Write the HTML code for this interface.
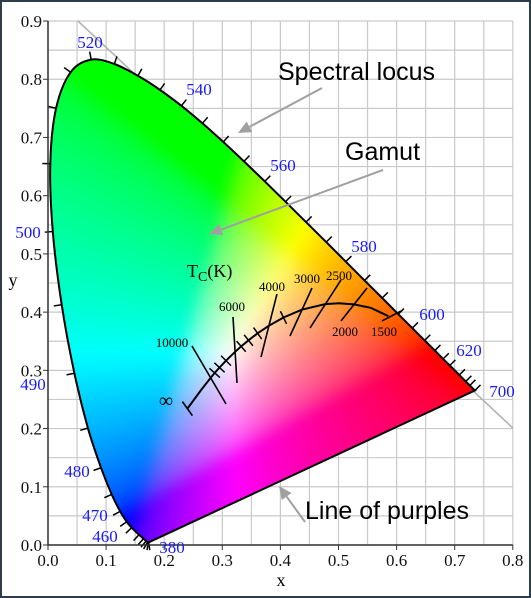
<!DOCTYPE html>
<html><head><meta charset="utf-8"><style>
html,body{margin:0;padding:0;background:#fff}
#wrap{position:relative;width:531px;height:598px;box-sizing:border-box;border:2px solid #2f3d4a;background:#fff;overflow:hidden}
canvas{display:none}
svg{position:absolute;left:-2px;top:-2px}
</style></head><body>
<div id="wrap">
<canvas id="cv" width="531" height="598"></canvas>
<svg id="sv" width="531" height="598" xmlns="http://www.w3.org/2000/svg"></svg>
</div>
<script>
const wavelengths=[380,400,410,420,430,440,450,460,465,470,475,480,485,490,495,500,505,510,515,520,525,530,535,540,545,550,555,560,565,570,575,580,585,590,595,600,605,610,615,620,630,640,650,700];
const locusX=[0.1741,0.1733,0.1726,0.1714,0.1689,0.1644,0.1566,0.1440,0.1355,0.1241,0.1096,0.0913,0.0687,0.0454,0.0235,0.0082,0.0039,0.0139,0.0389,0.0743,0.1142,0.1547,0.1929,0.2296,0.2658,0.3016,0.3373,0.3731,0.4087,0.4441,0.4788,0.5125,0.5448,0.5752,0.6029,0.6270,0.6482,0.6658,0.6801,0.6915,0.7079,0.7190,0.7260,0.7347];
const locusY=[0.0050,0.0048,0.0048,0.0051,0.0069,0.0109,0.0177,0.0297,0.0399,0.0578,0.0868,0.1327,0.2007,0.2950,0.4127,0.5384,0.6548,0.7502,0.8120,0.8338,0.8262,0.8059,0.7816,0.7543,0.7243,0.6923,0.6589,0.6245,0.5896,0.5547,0.5202,0.4866,0.4544,0.4242,0.3965,0.3725,0.3514,0.3340,0.3197,0.3083,0.2920,0.2809,0.2740,0.2653];
const planckT=[1500,1750,2000,2250,2500,3000,3500,4000,4500,5000,5500,6000,7000,8000,9000,10000,15000,100000];
const planckX=[0.5857,0.5555,0.5267,0.5001,0.4770,0.4369,0.4053,0.3805,0.3608,0.3451,0.3325,0.3221,0.3064,0.2952,0.2869,0.2807,0.2637,0.2399];
const planckY=[0.3931,0.4075,0.4133,0.4151,0.4137,0.4041,0.3907,0.3768,0.3636,0.3516,0.3411,0.3318,0.3166,0.3048,0.2956,0.2883,0.2664,0.2342];
const isoT=["10000","6000","4000","3000","2500","2000","1500"];
const isoX1=[0.2478,0.3184,0.3941,0.4544,0.5043,0.5491,0.6076];
const isoY1=[0.3418,0.3916,0.4311,0.4414,0.4552,0.4414,0.4019];
const isoX2=[0.3064,0.3253,0.3666,0.4165,0.4509,0.5043,0.5749];
const isoY2=[0.2422,0.2783,0.3229,0.3590,0.3727,0.3848,0.3848];
const minorT=[3500,4500,5000,5500,7000,8000,9000];
const xTicks=["0.0","0.1","0.2","0.3","0.4","0.5","0.6","0.7","0.8"];
const yTicks=["0.0","0.1","0.2","0.3","0.4","0.5","0.6","0.7","0.8","0.9"];
const wlLabels=[520,540,560,580,600,620,700,500,490,480,470,460,380];

const X0=48,XS=581,Y0=545,YS=582.2;
const sx=v=>X0+v*XS, sy=v=>Y0-v*YS;
const NS="http://www.w3.org/2000/svg";
const svg=document.getElementById('sv');
function mk(tag,attrs,parent){const e=document.createElementNS(NS,tag);for(const k in attrs)e.setAttribute(k,attrs[k]);(parent||svg).appendChild(e);return e;}

// smooth closed path through locus points (Catmull-Rom)
function smoothPath(){
 const P=locusX.map((x,i)=>[sx(x),sy(locusY[i])]);const n=P.length;
 let d='M'+P[0][0].toFixed(1)+','+P[0][1].toFixed(1);
 for(let i=0;i<n-1;i++){
  const p0=P[Math.max(i-1,0)],p1=P[i],p2=P[i+1],p3=P[Math.min(i+2,n-1)];
  const c1=[p1[0]+(p2[0]-p0[0])/6,p1[1]+(p2[1]-p0[1])/6],c2=[p2[0]-(p3[0]-p1[0])/6,p2[1]-(p3[1]-p1[1])/6];
  d+=`C${c1[0].toFixed(1)},${c1[1].toFixed(1)} ${c2[0].toFixed(1)},${c2[1].toFixed(1)} ${p2[0].toFixed(1)},${p2[1].toFixed(1)}`;
 }
 return d+'Z';
}
const locD=smoothPath();

// color field
const W=531,H=598;
const tmp=document.createElement('canvas');tmp.width=W;tmp.height=H;
const tctx=tmp.getContext('2d');const img=tctx.createImageData(W,H);
const g=c=>c<=0.0031308?12.92*c:1.055*Math.pow(c,1/2.4)-0.055;
for(let py=0;py<H;py++)for(let px=0;px<W;px++){
 const x=(px-X0)/XS;let y=(Y0-py)/YS;if(y<0.01)y=0.01;
 const X=x/y,Y=1,Z=Math.max(1-x-y,0)/y;
 let r=3.2406*X-1.5372*Y-0.4986*Z,gg=-0.9689*X+1.8758*Y+0.0415*Z,b=0.0557*X-0.2040*Y+1.0570*Z;
 r=Math.max(r,0);gg=Math.max(gg,0);b=Math.max(b,0);const m=Math.max(r,gg,b)||1;
 const k=(py*W+px)*4;img.data[k]=255*g(r/m);img.data[k+1]=255*g(gg/m);img.data[k+2]=255*g(b/m);img.data[k+3]=255;
}
tctx.putImageData(img,0,0);
const cv=document.getElementById('cv'),ctx=cv.getContext('2d');
ctx.filter='blur(7px)';ctx.drawImage(tmp,0,0);ctx.filter='none';

// grid
const grid=mk('g',{stroke:'#c9c9c9','stroke-width':1.2});

for(let i=0;i<=16;i++){mk('line',{x1:sx(i*0.05),x2:sx(i*0.05),y1:sy(0),y2:sy(0.9)},grid);}
for(let i=0;i<=18;i++){mk('line',{x1:sx(0),x2:sx(0.8),y1:sy(i*0.05),y2:sy(i*0.05)},grid);}
const diag=mk('line',{x1:sx(0.0516),y1:sy(0.9),x2:sx(0.8),y2:sy(0.201),stroke:'#b0b0b0','stroke-width':1.5});

// clip + image
const defs=mk('defs',{});const cp=mk('clipPath',{id:'lc'},defs);mk('path',{d:locD},cp);
const im=mk('image',{x:0,y:0,width:W,height:H,'clip-path':'url(#lc)'});
im.setAttribute('href',cv.toDataURL());

const loc=mk('path',{d:locD,fill:'none',stroke:'#000','stroke-width':2});

// locus ticks
const cx=sx(0.33),cy=sy(0.33);
for(let i=1;i<locusX.length;i++){
 const a=i-1,b=Math.min(i+1,locusX.length-1);
 let tx=sx(locusX[b])-sx(locusX[a]),ty=sy(locusY[b])-sy(locusY[a]);const L=Math.hypot(tx,ty)||1;
 let nx=-ty/L,ny=tx/L;const px=sx(locusX[i]),py=sy(locusY[i]);
 if((px-cx)*nx+(py-cy)*ny<0){nx=-nx;ny=-ny;}
 const t=mk('line',{x1:px,y1:py,x2:px+nx*8,y2:py+ny*8,stroke:'#000','stroke-width':1.5});
 
}
// axes
const ax=mk('path',{d:`M${sx(0)},${sy(0.9)}V${sy(0)}H${sx(0.8)}`,fill:'none',stroke:'#333','stroke-width':1.5});

xTicks.forEach((t,i)=>{const x=sx(i*0.1);mk('line',{x1:x,x2:x,y1:sy(0),y2:sy(0)+5,stroke:'#333'});
 const e=mk('text',{x:x,y:566,'text-anchor':'middle','font-family':'Liberation Serif,serif','font-size':17,fill:'#111'});e.textContent=t;
 });
yTicks.forEach((t,i)=>{const y=sy(i*0.1);mk('line',{x1:sx(0)-5,x2:sx(0),y1:y,y2:y,stroke:'#333'});
 const e=mk('text',{x:42,y:y+6,'text-anchor':'end','font-family':'Liberation Serif,serif','font-size':17,fill:'#111'});e.textContent=t;
 });
let e=mk('text',{x:281,y:586,'text-anchor':'middle','font-family':'Liberation Serif,serif','font-size':18});e.textContent='x';

e=mk('text',{x:13,y:286,'text-anchor':'middle','font-family':'Liberation Serif,serif','font-size':18});e.textContent='y';

const wlPos={520:[90,48],540:[199,95],560:[283,171],580:[364,252],600:[432,320],620:[469,356],700:[502,397],500:[28,238],490:[33,390],480:[77,477],470:[95,521],460:[105,542],380:[172,553]};
wlLabels.forEach(w=>{const p=wlPos[w];const t=mk('text',{x:p[0],y:p[1],'text-anchor':'middle','font-family':'Liberation Serif,serif','font-size':17,fill:'#1a1aff'});t.textContent=w;
 });
// planckian
let pd='';planckT.forEach((T,i)=>{pd+=(i?'L':'M')+sx(planckX[i]).toFixed(1)+','+sy(planckY[i]).toFixed(1);});
const pl=mk('path',{d:pd,fill:'none',stroke:'#000','stroke-width':2});

isoT.forEach((T,i)=>{const l=mk('line',{x1:sx(isoX1[i]),y1:sy(isoY1[i]),x2:sx(isoX2[i]),y2:sy(isoY2[i]),stroke:'#000','stroke-width':1.6});
 });
minorT.forEach(T=>{const i=planckT.indexOf(T);const a=i-1,b=i+1;
 let tx=sx(planckX[b])-sx(planckX[a]),ty=sy(planckY[b])-sy(planckY[a]);const L=Math.hypot(tx,ty);const nx=-ty/L,ny=tx/L;
 const px=sx(planckX[i]),py=sy(planckY[i]);
 const l=mk('line',{x1:px-nx*7,y1:py-ny*7,x2:px+nx*7,y2:py+ny*7,stroke:'#000','stroke-width':1.5});
 });
{const i=planckT.length-1,px=sx(planckX[i]),py=sy(planckY[i]);
 const l=mk('line',{x1:px-5,y1:py-7,x2:px+5,y2:py+7,stroke:'#000','stroke-width':1.6});
 }
const isoLab={"10000":[172,347],"6000":[232,311],"4000":[272,291],"3000":[307,283],"2500":[339,280],"2000":[345,336],"1500":[384,336]};
isoT.forEach(T=>{const p=isoLab[T];const t=mk('text',{x:p[0],y:p[1],'text-anchor':'middle','font-family':'Liberation Serif,serif','font-size':13,fill:'#000'});t.textContent=T;
 });
e=mk('text',{x:166,y:407,'text-anchor':'middle','font-family':'Liberation Serif,serif','font-size':20});e.textContent='∞';

e=mk('text',{x:187,y:277,'font-family':'Liberation Serif,serif','font-size':18});e.innerHTML='T<tspan font-size="14" dy="4">C</tspan><tspan dy="-4">(K)</tspan>';

function arrow(x1,y1,x2,y2,name){const g2=mk('g',{});
 const a=Math.atan2(y2-y1,x2-x1),h=13;
 const bx=x2-h*Math.cos(a),by=y2-h*Math.sin(a);
 mk('line',{x1:x1,y1:y1,x2:bx,y2:by,stroke:'#a0a0a0','stroke-width':2},g2);
 mk('polygon',{points:`${x2},${y2} ${bx+6*Math.sin(a)},${by-6*Math.cos(a)} ${bx-6*Math.sin(a)},${by+6*Math.cos(a)}`,fill:'#a0a0a0'},g2);}
arrow(322,88,238,133,'spectral-locus-arrow');
arrow(383,170,209,234,'gamut-arrow');
arrow(305,522,279,486,'purples-arrow');
[['Spectral locus',278,80,'spectral-locus-label'],['Gamut',345,160,'gamut-label'],['Line of purples',305,519,'purples-label']].forEach(a=>{
 const t=mk('text',{x:a[1],y:a[2],'font-family':'Liberation Sans,sans-serif','font-size':25,fill:'#000'});t.textContent=a[0];
 });
</script>
</body></html>
